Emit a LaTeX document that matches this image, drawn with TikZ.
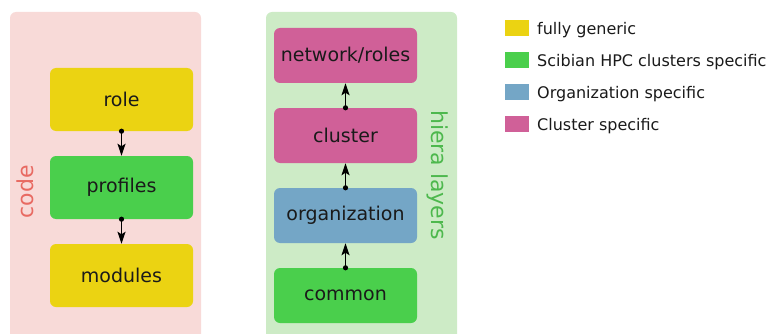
\documentclass[tikz,border=0pt]{standalone}
\usepackage{fontspec}
\setmainfont{DejaVu Sans}
\usetikzlibrary{arrows.meta}
\definecolor{cyellow}{HTML}{EBD312}
\definecolor{cgreen}{HTML}{4ACF4C}
\definecolor{cblue}{HTML}{74A6C6}
\definecolor{cpink}{HTML}{D06098}
\definecolor{codebg}{HTML}{F8DAD8}
\definecolor{hierabg}{HTML}{CDEBC6}
\definecolor{codetxt}{HTML}{E86A62}
\definecolor{hieratxt}{HTML}{4DB84D}
\definecolor{txt}{HTML}{1A1A1A}
\begin{document}
\begin{tikzpicture}[x=1pt,y=-1pt,
  box/.style={rectangle,rounded corners=6pt,minimum width=143pt,text=txt,font=\fontsize{19}{22}\selectfont,inner sep=0pt},
  codebox/.style={box,minimum height=63pt},
  hierabox/.style={box,minimum height=55pt},
  arr/.style={line width=1.8pt,-{Stealth[length=12pt,width=8pt,inset=2.5pt]}},
  dot/.style={fill=black},
  swatch/.style={rectangle,minimum width=24pt,minimum height=16pt,inner sep=0pt},
  legtext/.style={anchor=west,text=txt,font=\fontsize{16}{19}\selectfont,inner sep=0pt}
]
\clip (0,0) rectangle (767,334);
\useasboundingbox (0,0) rectangle (767,334);
% panels
\fill[codebg,rounded corners=6pt] (10,12) rectangle (201,350);
\fill[hierabg,rounded corners=6pt] (266,12) rectangle (457,350);
% code boxes
\node[codebox,fill=cyellow] (role) at (121.5,99.5) {role};
\node[codebox,fill=cgreen] (profiles) at (121.5,187.5) {profiles};
\node[codebox,fill=cyellow] (modules) at (121.5,275.5) {modules};
\draw[arr] (role.south) -- (profiles.north);
\draw[arr] (profiles.south) -- (modules.north);
\fill[dot] (role.south) circle (2.6pt);
\fill[dot] (profiles.south) circle (2.6pt);
\node[rotate=90,text=codetxt,font=\fontsize{22}{26}\selectfont] (codelbl) at (25,192) {code};
% hiera boxes
\node[hierabox,fill=cpink] (network) at (345.5,55.5) {network/roles};
\node[hierabox,fill=cpink] (cluster) at (345.5,135.5) {cluster};
\node[hierabox,fill=cblue] (org) at (345.5,215.5) {organization};
\node[hierabox,fill=cgreen] (common) at (345.5,295.5) {common};
\draw[arr] (cluster.north) -- (network.south);
\draw[arr] (org.north) -- (cluster.south);
\draw[arr] (common.north) -- (org.south);
\fill[dot] (cluster.north) circle (2.6pt);
\fill[dot] (org.north) circle (2.6pt);
\fill[dot] (common.north) circle (2.6pt);
\node[rotate=-90,text=hieratxt,font=\fontsize{22}{26}\selectfont] (hieralbl) at (438,175) {hiera layers};
% legend
\node[swatch,fill=cyellow] (s1) at (517,28) {};
\node[swatch,fill=cgreen] (s2) at (517,60) {};
\node[swatch,fill=cblue] (s3) at (517,92) {};
\node[swatch,fill=cpink] (s4) at (517,124) {};
\node[legtext] (l1) at (537,30) {fully generic};
\node[legtext] (l2) at (537,62) {Scibian HPC clusters specific};
\node[legtext] (l3) at (537,94) {Organization specific};
\node[legtext] (l4) at (537,126) {Cluster specific};
\end{tikzpicture}
\end{document}
